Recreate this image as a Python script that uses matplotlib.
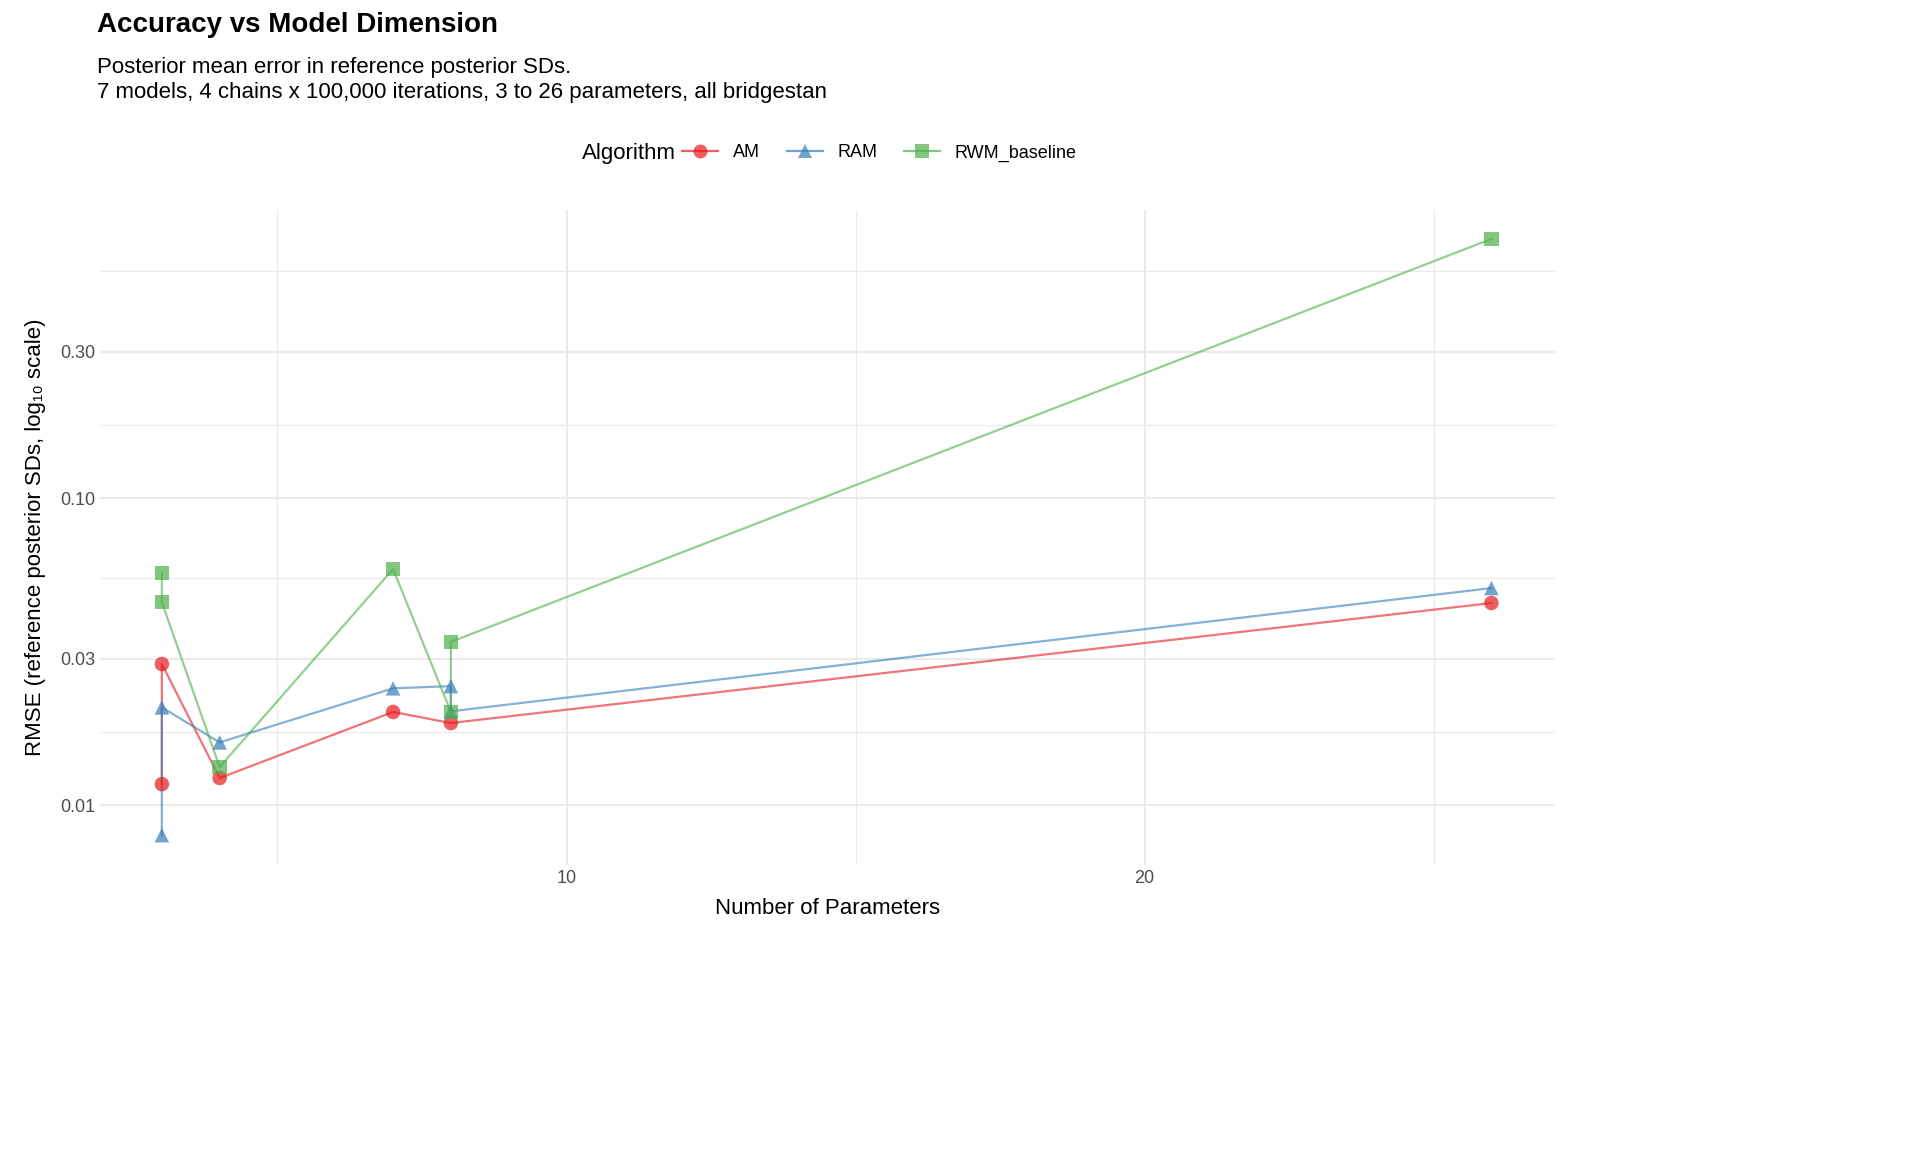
import matplotlib
matplotlib.use("Agg")
import matplotlib.pyplot as plt
import numpy as np

plt.rcParams['font.family'] = ['Liberation Sans', 'DejaVu Sans']

algorithms = ["AM", "RAM", "RWM_baseline"]
colors = ["#E41A1C", "#377EB8", "#4DAF4A"]
markers = ["o", "^", "s"]
am_x = [3, 3, 4, 7, 8, 26]
am_y = [0.0117, 0.0288, 0.01225, 0.0201, 0.0185, 0.0455]
ram_x = [3, 3, 4, 7, 8, 8, 26]
ram_y = [0.00798, 0.0208, 0.0160, 0.0240, 0.0244, 0.0202, 0.0509]
rwm_x = [3, 3, 4, 7, 8, 8, 26]
rwm_y = [0.057, 0.0458, 0.0133, 0.0587, 0.0201, 0.034, 0.698]
series = [(am_x, am_y), (ram_x, ram_y), (rwm_x, rwm_y)]

fig = plt.figure(figsize=(19.2, 11.52), dpi=100)
ax = fig.add_axes([100/1920, 1-865/1152, 1455/1920, 655/1152])
ax.set_yscale('log')
ax.set_xlim(1.93, 27.1)
ax.set_ylim(0.00638, 0.867)
ax.set_xticks([10, 20])
ax.set_xticks([5, 15, 25], minor=True)
ax.set_yticks([0.01, 0.03, 0.10, 0.30])
ax.set_yticklabels(["0.01", "0.03", "0.10", "0.30"])
ax.set_yticks([0.0173, 0.0548, 0.173, 0.548], minor=True)
ax.yaxis.set_minor_formatter(matplotlib.ticker.NullFormatter())
ax.xaxis.set_minor_formatter(matplotlib.ticker.NullFormatter())
ax.grid(True, which='major', color='#EBEBEB', lw=1.6)
ax.grid(True, which='minor', color='#EBEBEB', lw=0.9)
ax.tick_params(which='both', length=0, labelsize=13, labelcolor='#4D4D4D')
for s in ax.spines.values():
    s.set_visible(False)
ax.set_axisbelow(True)

handles = []
for name, c, m, (x, y) in zip(algorithms, colors, markers, series):
    ax.plot(x, y, color=c, alpha=0.6, lw=1.6, zorder=2)
    ax.scatter(x, y, color=c, alpha=0.7, marker=m, s=110, edgecolors='none', zorder=3)
    h, = ax.plot([], [], color=c, alpha=0.7, lw=1.6, marker=m, markersize=10, markeredgewidth=0)
    handles.append(h)

ax.set_xlabel("Number of Parameters", fontsize=16, labelpad=8)
ax.set_ylabel("RMSE (reference posterior SDs, log₁₀ scale)", fontsize=16, labelpad=10)

fig.text(97/1920, 1-25/1152, "Accuracy vs Model Dimension", fontsize=20, fontweight='bold', va='center')
fig.text(97/1920, 1-80/1152, "Posterior mean error in reference posterior SDs.\n7 models, 4 chains x 100,000 iterations, 3 to 26 parameters, all bridgestan",
         fontsize=16, va='center', linespacing=1.2)
fig.text(676/1920, 1-153/1152, "Algorithm", fontsize=16, ha='right', va='center')
fig.legend(handles, algorithms, loc='center left', bbox_to_anchor=(682/1920, 1-153/1152),
           ncol=3, frameon=False, fontsize=13, handlelength=2, columnspacing=1.5,
           borderaxespad=0, borderpad=0)
fig.savefig("out.png", dpi=100)
